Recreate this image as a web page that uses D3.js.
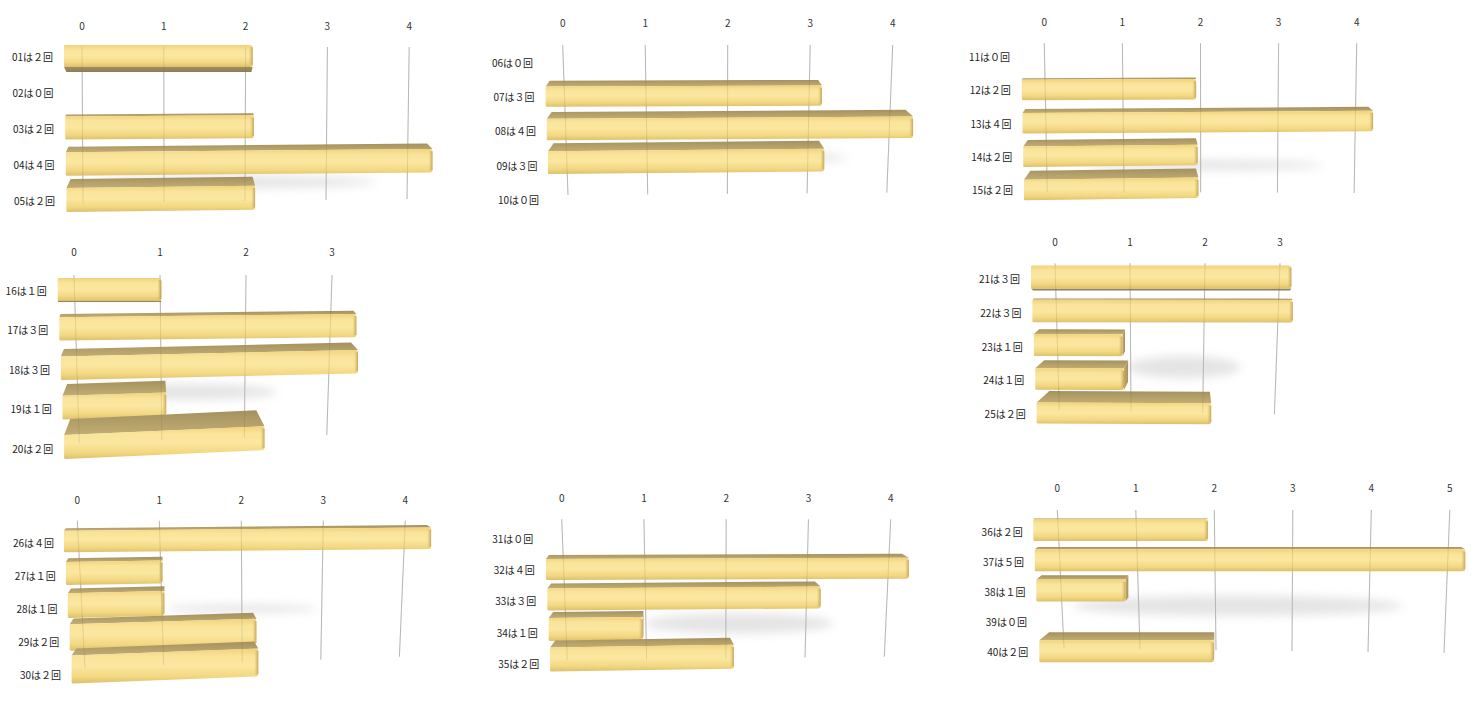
<!DOCTYPE html>
<html><head><meta charset="utf-8">
<script src="https://cdn.jsdelivr.net/npm/d3@7"></script>
<style>body{margin:0;background:#fff} svg{display:block}</style>
</head><body>
<svg id="chart" width="1482" height="705"></svg>
<script>
// ---- data ----
const cats1=["01","02","03","04","05"], vals1=[2,0,2,4,2], ticks1=[0,1,2,3,4];
const cats2=["06","07","08","09","10"], vals2=[0,3,4,3,0], ticks2=[0,1,2,3,4];
const cats3=["11","12","13","14","15"], vals3=[0,2,4,2,2], ticks3=[0,1,2,3,4];
const cats4=["16","17","18","19","20"], vals4=[1,3,3,1,2], ticks4=[0,1,2,3];
const cats5=["21","22","23","24","25"], vals5=[3,3,1,1,2], ticks5=[0,1,2,3];
const cats6=["26","27","28","29","30"], vals6=[4,1,1,2,2], ticks6=[0,1,2,3,4];
const cats7=["31","32","33","34","35"], vals7=[0,4,3,1,2], ticks7=[0,1,2,3,4];
const cats8=["36","37","38","39","40"], vals8=[2,5,1,0,2], ticks8=[0,1,2,3,4,5];

// ---- layout (positions / perspective per panel) ----
const layouts=[
 {cats:cats1,vals:vals1,ticks:ticks1,tickY:25,gTop:[82,81.8,47],gBot:[83,81,203,199],lab:[56.5,36.1,53,55],
  bar:{L0:64,dL:0.6,c:10.7,u:89,y0:56,dy:36,h0:22,h1:24,f0:-5,f1:9,s0:0,s1:-0.012,vp:185,kk:0.004},shadow:{r:3.5,v0:0.13,v1:3.6,h:12}},
 {cats:cats2,vals:vals2,ticks:ticks2,tickY:22.7,gTop:[562.7,82.5,45],gBot:[568,79.7,195,192.7],lab:[62.5,34.2,533,539],
  bar:{L0:544.5,dL:1.15,c:6.3,u:90,y0:63.5,dy:33,h0:19,h1:24,f0:4.5,f1:9,s0:0,s1:-0.012,vp:690,kk:0.005},shadow:{r:2.85,v0:1.5,v1:3.45,h:10}},
 {cats:cats3,vals:vals3,ticks:ticks3,tickY:21.7,gTop:[1044.3,78.1,43.3],gBot:[1047.3,76.7,191.7,193],lab:[56.5,33.3,1010,1013],
  bar:{L0:1021,dL:0.75,c:-1.8,u:88.1,y0:56.5,dy:33.4,h0:20.5,h1:20.5,f0:-1,f1:9,s0:0,s1:-0.013,vp:1150,kk:0.0055},shadow:{r:3.25,v0:0.5,v1:3.56,h:10}},
 {cats:cats4,vals:vals4,ticks:ticks4,tickY:251.7,gTop:[74,86,275],gBot:[79.3,82.5,443.3,435],lab:[290,39.6,46.7,53.3],
  bar:{L0:57.7,dL:1.6,c:7,u:96.7,y0:289.5,dy:39.4,h0:23,h1:24,f0:-1,f1:16,s0:0,s1:-0.044,vp:150,kk:0.0045},shadow:{r:2.6,v0:0.27,v1:2.36,h:16}},
 {cats:cats5,vals:vals5,ticks:ticks5,tickY:241,gTop:[1055,75,263.3],gBot:[1059.3,71.7,410,414.3],lab:[278.5,33.75,1020,1025.7],
  bar:{L0:1031,dL:1.4,c:3,u:85.8,y0:277,dy:34,h0:23,h1:21,f0:-2,f1:11.5,s0:0,s1:0.004,vp:1195,kk:0.007},shadow:{r:2.65,v0:0.96,v1:2.47,h:22}},
 {cats:cats6,vals:vals6,ticks:ticks6,tickY:499.3,gTop:[77.3,82,520.7],gBot:[85,78.6,668.3,656.7],lab:[542,33.1,54,61],
  bar:{L0:64,dL:1.9,c:6.3,u:90.2,y0:541.5,dy:32,h0:21.5,h1:28,f0:2.5,f1:7,s0:-0.009,s1:-0.037,vp:170,kk:0.0065},shadow:{r:2.1,v0:1.07,v1:2.92,h:8}},
 {cats:cats7,vals:vals7,ticks:ticks7,tickY:497.3,gTop:[561.7,82.25,519.3],gBot:[567.3,79.25,660,656.7],lab:[538,31.4,533.3,539.3],
  bar:{L0:544.5,dL:1.4,c:4.6,u:89.6,y0:539.5,dy:30,h0:20,h1:24,f0:3,f1:7,s0:0,s1:-0.015,vp:655,kk:0.007},shadow:{r:2.8,v0:1.0,v1:3.3,h:20}},
 {cats:cats8,vals:vals8,ticks:ticks8,tickY:487.3,gTop:[1057.3,78.5,510],gBot:[1064,76,648.3,653],lab:[531,30,1022.7,1028.3],
  bar:{L0:1033.3,dL:1.5,c:4,u:85.3,y0:530,dy:30.3,h0:22,h1:22,f0:0.5,f1:8,s0:0,s1:0,vp:1220,kk:0.0068},shadow:{r:2.5,v0:0.2,v1:4.4,h:20}}
];

const svg=d3.select("#chart");
const defs=svg.append("defs");
function grad(id,stops,x2,y2){
  const g=defs.append("linearGradient").attr("id",id).attr("x1",0).attr("y1",0).attr("x2",x2).attr("y2",y2);
  stops.forEach(s=>g.append("stop").attr("offset",s[0]).attr("stop-color",s[1]));
}
grad("gFront",[[0,"#efd37c"],[0.22,"#fae49a"],[0.5,"#fbe7a0"],[0.8,"#f3d882"],[1,"#dcc06e"]],0,1);
grad("gTop",[[0,"#a4915f"],[1,"#c2ad72"]],0,1);
grad("gBot",[[0,"#a08e60"],[1,"#8d7d56"]],0,1);
grad("gEnd",[[0,"#c2aa66"],[1,"#a89259"]],1,0);
grad("gEdge",[[0,"rgba(214,185,100,0)"],[1,"rgba(190,160,85,0.9)"]],1,0);
const blur=defs.append("filter").attr("id","blur").attr("x","-30%").attr("y","-150%").attr("width","160%").attr("height","400%");
blur.append("feGaussianBlur").attr("stdDeviation",5);

const full=n=>String(n).replace(/[0-9]/g,d=>String.fromCharCode(d.charCodeAt(0)+0xFEE0));
const poly=d3.line().curve(d3.curveLinearClosed);
const FONT="'Noto Sans CJK JP','Noto Sans',sans-serif";

layouts.forEach(P=>{
  const g=svg.append("g");
  const n=P.cats.length, tmax=d3.max(P.ticks);
  const idx=d3.range(n);
  const tOf=d3.scaleLinear().domain([0,n-1]).range([0,1]);
  const gxTop=d3.scaleLinear().domain([0,tmax]).range([P.gTop[0],P.gTop[0]+P.gTop[1]*tmax]);
  const gxBot=d3.scaleLinear().domain([0,tmax]).range([P.gBot[0],P.gBot[0]+P.gBot[1]*tmax]);
  const gyBot=d3.scaleLinear().domain([0,tmax]).range([P.gBot[2],P.gBot[3]]);
  const labY=d3.scaleLinear().domain([0,n-1]).range([P.lab[0],P.lab[0]+P.lab[1]*(n-1)]);
  const labX=d3.scaleLinear().domain([0,n-1]).range([P.lab[2],P.lab[3]]);
  const B=P.bar;
  const barY=d3.scaleLinear().domain([0,n-1]).range([B.y0,B.y0+B.dy*(n-1)]);
  const lerp=(a,b)=>d3.scaleLinear().domain([0,1]).range([a,b]);
  const hS=lerp(B.h0,B.h1), fS=lerp(B.f0,B.f1), sS=lerp(B.s0,B.s1);

  // shadow
  const S=P.shadow, sy=barY(S.r);
  g.append("ellipse").attr("cx",(gxTop(S.v0)+gxTop(S.v1))/2).attr("cy",sy)
    .attr("rx",(gxTop(S.v1)-gxTop(S.v0))/2).attr("ry",S.h/2)
    .attr("fill","#c4c4c4").attr("opacity",0.45).attr("filter","url(#blur)");

  // gridlines
  const gl=(sel,stroke,op)=>sel.selectAll(null).data(P.ticks).join("line")
     .attr("x1",d=>gxTop(d)).attr("y1",P.gTop[2]).attr("x2",d=>gxBot(d)).attr("y2",d=>gyBot(d))
     .attr("stroke",stroke).attr("stroke-width",1).attr("opacity",op);
  gl(g,"#c8c8c8",1);

  // tick labels
  g.selectAll(null).data(P.ticks).join("text")
    .attr("x",d=>gxTop(d)).attr("y",P.tickY).attr("text-anchor","middle").attr("dominant-baseline","central")
    .attr("font-family",FONT).attr("font-size",10).attr("fill","#333").text(d=>d);

  // row labels
  g.selectAll(null).data(idx).join("text")
    .attr("x",i=>labX(i)).attr("y",i=>labY(i)).attr("text-anchor","end").attr("dominant-baseline","central")
    .attr("font-family",FONT).attr("font-size",10).attr("fill","#222")
    .text(i=>P.cats[i]+"は"+full(P.vals[i])+"回");

  // bars
  idx.forEach(i=>{
    const v=P.vals[i]; if(!(v>0)) return;
    const t=tOf(i), L=B.L0+B.dL*i;
    const xs=d3.scaleLinear().domain([0,tmax]).range([L+B.c,L+B.c+B.u*tmax]);
    const xr=xs(v), yc=barY(i), h=hS(t), f=fS(t), s=sS(t);
    const yTL=yc-h/2, yBL=yc+h/2, d=s*(xr-L), yTR=yTL+d, yBR=yBL+d;
    const af=Math.abs(f);
    const bx=x=>x+(B.vp-x)*B.kk*af;
    const bg=g.append("g");
    if(f>0){
      if(bx(xr)>xr) bg.append("path").attr("d",poly([[xr,yTR],[bx(xr),yTR-f],[bx(xr),yBR-f],[xr,yBR]])).attr("fill","url(#gEnd)");
      if(bx(L)<L) bg.append("path").attr("d",poly([[L,yTL],[bx(L),yTL-f],[bx(L),yBL-f],[L,yBL]])).attr("fill","url(#gEnd)");
      bg.append("path").attr("d",poly([[L,yTL],[xr,yTR],[bx(xr),yTR-f],[bx(L),yTL-f]])).attr("fill","url(#gTop)");
    } else if(f<0){
      if(bx(xr)>xr) bg.append("path").attr("d",poly([[xr,yTR],[bx(xr),yTR+af],[bx(xr),yBR+af],[xr,yBR]])).attr("fill","url(#gEnd)");
      bg.append("path").attr("d",poly([[L,yBL],[xr,yBR],[bx(xr),yBR+af],[bx(L),yBL+af]])).attr("fill","url(#gBot)");
    }
    const p=d3.path();
    p.moveTo(L,yTL+1); p.quadraticCurveTo(L,yTL,L+1.5,yTL);
    p.lineTo(xr-2.5,yTR); p.quadraticCurveTo(xr,yTR,xr,yTR+2.5);
    p.lineTo(xr,yBR-2.5); p.quadraticCurveTo(xr,yBR,xr-2.5,yBR);
    p.lineTo(L+1.5,yBL); p.quadraticCurveTo(L,yBL,L,yBL-1); p.closePath();
    bg.append("path").attr("d",p.toString()).attr("fill","url(#gFront)");
    bg.append("path").attr("d",poly([[xr-4,yTR+1.5],[xr,yTR+2.5],[xr,yBR-2.5],[xr-4,yBR-1]])).attr("fill","url(#gEdge)");
  });

  // faint gridlines through bars
  gl(g,"#7a6a40",0.18);
});
</script>
</body></html>
